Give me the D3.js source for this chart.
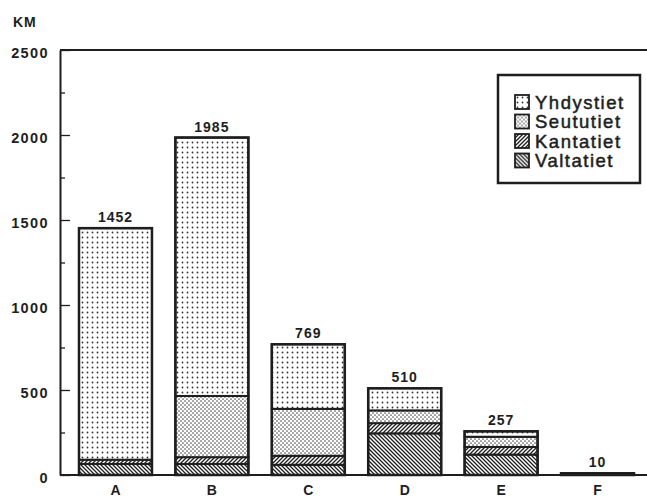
<!DOCTYPE html>
<html>
<head>
<meta charset="utf-8">
<script src="https://cdn.jsdelivr.net/npm/d3@7"></script>
<style>
  body { margin: 0; background: #fff; }
  svg { display: block; font-family: "Liberation Sans", Arial, sans-serif; }
</style>
</head>
<body>
<svg id="chart"></svg>
<script>
// data (km)
const categories = ["A", "B", "C", "D", "E", "F"];
const totals     = [1452, 1985, 769, 510, 257, 10];
const valtatiet  = [65, 65, 60, 245, 120, 4];
const kantatiet  = [25, 40, 53, 60, 45, 3];
const seututiet  = [0, 360, 276, 75, 60, 2];
const yhdystiet  = [1362, 1520, 380, 130, 32, 1];
const seriesNames = ["Valtatiet", "Kantatiet", "Seututiet", "Yhdystiet"];
const yTicks = [0, 500, 1000, 1500, 2000, 2500];
const yMinorTicks = [250, 750, 1250, 1750, 2250];

const width = 647, height = 497;
const ink = "#1e1e1e";

const svg = d3.select("#chart")
  .attr("width", width)
  .attr("height", height);

// hatch / dot patterns
const defs = svg.append("defs");

const pYhd = defs.append("pattern").attr("id", "p-Yhdystiet")
  .attr("patternUnits", "userSpaceOnUse").attr("width", 5).attr("height", 5);
pYhd.append("rect").attr("width", 5).attr("height", 5).attr("fill", "#fff");
pYhd.append("circle").attr("cx", 2.5).attr("cy", 2.5).attr("r", 0.9).attr("fill", "#333");

const pSeu = defs.append("pattern").attr("id", "p-Seututiet")
  .attr("patternUnits", "userSpaceOnUse").attr("width", 4).attr("height", 4);
pSeu.append("rect").attr("width", 4).attr("height", 4).attr("fill", "#fff");
pSeu.append("circle").attr("cx", 1).attr("cy", 1).attr("r", 0.85).attr("fill", "#555");
pSeu.append("circle").attr("cx", 3).attr("cy", 3).attr("r", 0.85).attr("fill", "#555");

const pKan = defs.append("pattern").attr("id", "p-Kantatiet")
  .attr("patternUnits", "userSpaceOnUse").attr("width", 4).attr("height", 4);
pKan.append("rect").attr("width", 4).attr("height", 4).attr("fill", "#fff");
pKan.append("path").attr("d", "M-1,5 L5,-1 M-1,1 L1,-1 M3,5 L5,3")
  .attr("stroke", ink).attr("stroke-width", 1.3);

const pVal = defs.append("pattern").attr("id", "p-Valtatiet")
  .attr("patternUnits", "userSpaceOnUse").attr("width", 4).attr("height", 4);
pVal.append("rect").attr("width", 4).attr("height", 4).attr("fill", "#fff");
pVal.append("path").attr("d", "M-1,-1 L5,5 M3,-1 L5,1 M-1,3 L1,5")
  .attr("stroke", ink).attr("stroke-width", 1.3);

// scales
const x = d3.scaleBand()
  .domain(categories)
  .range([60, 653])
  .paddingInner(0.243)
  .paddingOuter(0.197);

const y = d3.scaleLinear()
  .domain([0, 2500])
  .range([475, 50]);

// stack
const rows = categories.map((c, i) => ({
  cat: c,
  Valtatiet: valtatiet[i],
  Kantatiet: kantatiet[i],
  Seututiet: seututiet[i],
  Yhdystiet: yhdystiet[i]
}));
const stacked = d3.stack().keys(seriesNames)(rows);

const gBars = svg.append("g");
stacked.forEach(layer => {
  gBars.selectAll(null)
    .data(layer)
    .enter().append("rect")
    .attr("x", d => x(d.data.cat))
    .attr("width", x.bandwidth())
    .attr("y", d => y(d[1]))
    .attr("height", d => Math.max(0, y(d[0]) - y(d[1])))
    .attr("fill", `url(#p-${layer.key})`)
    .attr("stroke", ink)
    .attr("stroke-width", 2);
});

// outer outline of each bar
gBars.selectAll(".outline")
  .data(categories)
  .enter().append("rect")
  .attr("class", "outline")
  .attr("x", d => x(d))
  .attr("width", x.bandwidth())
  .attr("y", (d, i) => y(totals[i]))
  .attr("height", (d, i) => y(0) - y(totals[i]))
  .attr("fill", "none")
  .attr("stroke", ink)
  .attr("stroke-width", 2.5);

// value labels
svg.append("g").selectAll("text")
  .data(categories)
  .enter().append("text")
  .attr("x", d => x(d) + x.bandwidth() / 2)
  .attr("y", (d, i) => y(totals[i]) - 6)
  .attr("text-anchor", "middle")
  .attr("font-size", 14)
  .attr("font-weight", "bold")
  .attr("letter-spacing", 1)
  .attr("fill", ink)
  .text((d, i) => totals[i]);

// frame lines
svg.append("line")
  .attr("x1", 60).attr("x2", width).attr("y1", y(2500)).attr("y2", y(2500))
  .attr("stroke", ink).attr("stroke-width", 2);
svg.append("line")
  .attr("x1", 60).attr("x2", width).attr("y1", y(0)).attr("y2", y(0))
  .attr("stroke", ink).attr("stroke-width", 2);

// y axis, ticks pointing inwards
const yAxis = svg.append("g")
  .attr("transform", "translate(60,0)")
  .call(d3.axisLeft(y).tickValues(yTicks).tickFormat(d3.format("d"))
    .tickSizeInner(-10).tickSizeOuter(0).tickPadding(11));
yAxis.select(".domain").attr("stroke", ink).attr("stroke-width", 2);
yAxis.selectAll(".tick line").attr("stroke", ink).attr("stroke-width", 1.3);
yAxis.selectAll(".tick text")
  .attr("font-size", 14.5)
  .attr("font-weight", "bold")
  .attr("letter-spacing", 1.4)
  .attr("font-family", "Liberation Sans, Arial, sans-serif")
  .attr("fill", ink)
  .attr("dy", "0.5em");

const yMinor = svg.append("g")
  .attr("transform", "translate(60,0)")
  .call(d3.axisLeft(y).tickValues(yMinorTicks).tickSizeInner(-5).tickSizeOuter(0).tickFormat(""));
yMinor.select(".domain").remove();
yMinor.selectAll(".tick line").attr("stroke", ink).attr("stroke-width", 1.3);

// KM unit label
svg.append("text")
  .attr("x", 13).attr("y", 27)
  .attr("font-size", 14)
  .attr("font-weight", "bold")
  .attr("letter-spacing", 1)
  .attr("fill", ink)
  .text("KM");

// category labels
svg.append("g").selectAll("text")
  .data(categories)
  .enter().append("text")
  .attr("x", d => x(d) + x.bandwidth() / 2)
  .attr("y", 495)
  .attr("text-anchor", "middle")
  .attr("font-size", 14)
  .attr("font-weight", "bold")
  .attr("fill", ink)
  .text(d => d);

// legend
const legend = svg.append("g").attr("transform", "translate(498,75)");
legend.append("rect")
  .attr("width", 142).attr("height", 108)
  .attr("fill", "#fff")
  .attr("stroke", ink)
  .attr("stroke-width", 2.5);

const legendOrder = ["Yhdystiet", "Seututiet", "Kantatiet", "Valtatiet"];
const item = legend.selectAll(".item")
  .data(legendOrder)
  .enter().append("g")
  .attr("class", "item")
  .attr("transform", (d, i) => `translate(17,${20 + i * 19.5})`);
item.append("rect")
  .attr("width", 14).attr("height", 14)
  .attr("fill", d => `url(#p-${d})`)
  .attr("stroke", ink)
  .attr("stroke-width", 1.8);
item.append("text")
  .attr("x", 20).attr("y", 13.5)
  .attr("font-size", 18.5)
  .attr("letter-spacing", 1.5)
  .attr("fill", ink)
  .attr("stroke", ink)
  .attr("stroke-width", 0.5)
  .text(d => d);
</script>
</body>
</html>
